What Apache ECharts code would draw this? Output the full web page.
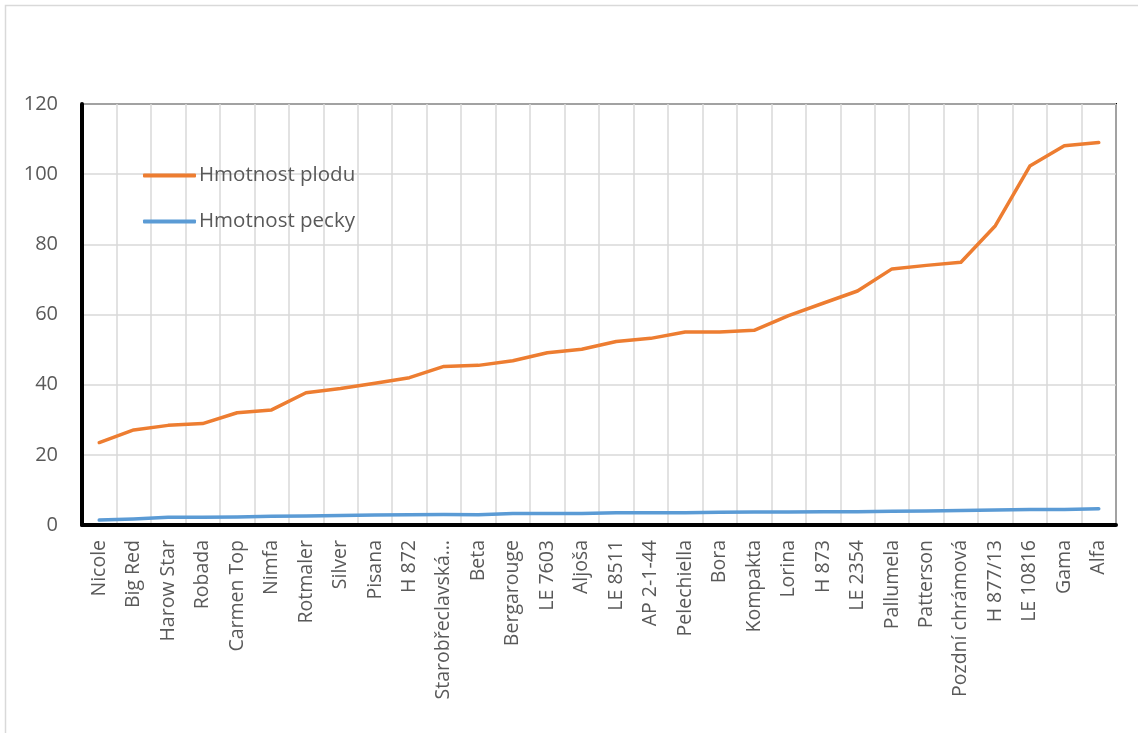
<!DOCTYPE html>
<html>
<head>
<meta charset="utf-8">
<style>
  html, body { margin: 0; padding: 0; background: #ffffff; }
  #chart { width: 1138px; height: 733px; }
</style>
<script src="https://cdn.jsdelivr.net/npm/echarts@6/dist/echarts.min.js"></script>
</head>
<body>
<div id="chart"></div>
<script>
// Odrůdy seřazené podle hmotnosti plodu
const categories = [
  'Nicole', 'Big Red', 'Harow Star', 'Robada', 'Carmen Top', 'Nimfa', 'Rotmaler',
  'Silver', 'Pisana', 'H 872', 'Starobřeclavská…', 'Beta', 'Bergarouge', 'LE 7603',
  'Aljoša', 'LE 8511', 'AP 2-1-44', 'Pelechiella', 'Bora', 'Kompakta', 'Lorina',
  'H 873', 'LE 2354', 'Pallumela', 'Patterson', 'Pozdní chrámová', 'H 877/13',
  'LE 10816', 'Gama', 'Alfa'
];

// Hmotnost plodu (g)
const fruitWeight = [
  23.5, 27.1, 28.4, 28.9, 32.0, 32.8, 37.7, 38.9, 40.4, 42.0,
  45.2, 45.5, 46.8, 49.1, 50.1, 52.3, 53.2, 55.0, 55.0, 55.5,
  59.7, 63.2, 66.7, 73.0, 74.0, 74.9, 85.3, 102.3, 108.1, 109.0
];

// Hmotnost pecky (g)
const stoneWeight = [
  1.4, 1.7, 2.2, 2.2, 2.3, 2.5, 2.6, 2.7, 2.85, 2.95,
  3.0, 2.95, 3.3, 3.3, 3.3, 3.5, 3.5, 3.5, 3.6, 3.7,
  3.7, 3.8, 3.8, 3.9, 4.0, 4.1, 4.3, 4.4, 4.4, 4.6
];

const seriesNames = ['Hmotnost plodu', 'Hmotnost pecky'];

const FONT = '"Open Sans", "Noto Sans", sans-serif';
const TEXT = '#595959';
const GRID = '#d9d9d9';

const chart = echarts.init(document.getElementById('chart'), null, { renderer: 'canvas' });

chart.setOption({
  animation: false,
  backgroundColor: '#ffffff',
  graphic: [{
    type: 'rect',
    shape: { x: 5.5, y: 5.5, width: 1160, height: 760 },
    style: { fill: 'none', stroke: GRID, lineWidth: 1.5 },
    silent: true
  }],
  grid: {
    left: 82, right: 22, top: 104, bottom: 208,
    show: true, borderColor: '#000000', borderWidth: 2,
    containLabel: false
  },
  legend: {
    orient: 'vertical',
    left: 138, top: 160,
    itemWidth: 53, itemHeight: 4,
    itemGap: 25,
    icon: 'roundRect',
    textStyle: { fontFamily: FONT, fontSize: 20.5, color: TEXT, padding: [0, 0, 0, -2] },
    data: seriesNames
  },
  xAxis: {
    type: 'category',
    data: categories,
    boundaryGap: true,
    axisLine: { show: true, lineStyle: { color: '#000000', width: 4 } },
    axisTick: { show: false },
    splitLine: { show: true, interval: 0, lineStyle: { color: GRID, width: 1.5 } },
    axisLabel: {
      interval: 0, rotate: 90, margin: 15,
      fontFamily: FONT, fontSize: 19.5, color: TEXT
    }
  },
  yAxis: {
    type: 'value',
    min: 0, max: 120, interval: 20,
    axisLine: { show: true, lineStyle: { color: '#000000', width: 4 } },
    axisTick: { show: false },
    splitLine: { show: true, lineStyle: { color: GRID, width: 1.5 } },
    axisLabel: { margin: 24, fontFamily: FONT, fontSize: 20, color: TEXT }
  },
  series: [
    {
      name: seriesNames[0],
      type: 'line',
      data: fruitWeight,
      showSymbol: false,
      symbol: 'none',
      color: '#ED7D31',
      lineStyle: { color: '#ED7D31', width: 3.5, cap: 'round', join: 'round' }
    },
    {
      name: seriesNames[1],
      type: 'line',
      data: stoneWeight,
      showSymbol: false,
      symbol: 'none',
      color: '#5B9BD5',
      lineStyle: { color: '#5B9BD5', width: 3.5, cap: 'round', join: 'round' }
    }
  ]
});
</script>
</body>
</html>
